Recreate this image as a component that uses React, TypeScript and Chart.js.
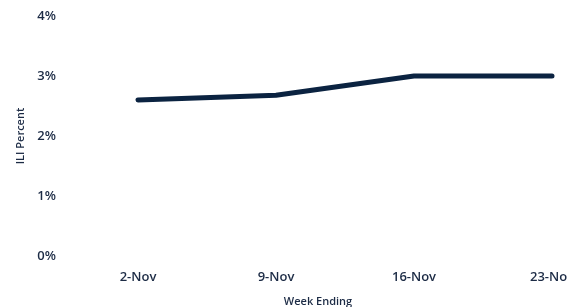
import React, { useEffect, useRef } from "react";
import { Chart, registerables } from "chart.js";

Chart.register(...registerables);

const categories = ["2-Nov", "9-Nov", "16-Nov", "23-Nov"];
const iliValues = [2.6, 2.68, 3.0, 3.0];
const yTicks = [0, 1, 2, 3, 4];

const NAVY = "#0b2341";
const TEXT = "#1c2b45";
const FONT = "'Open Sans', 'Noto Sans', sans-serif";

export default function App() {
  const ref = useRef<HTMLCanvasElement | null>(null);

  useEffect(() => {
    if (!ref.current) return;
    const chart = new Chart(ref.current, {
      type: "line",
      data: {
        labels: categories,
        datasets: [
          {
            data: iliValues,
            borderColor: NAVY,
            backgroundColor: NAVY,
            borderWidth: 5,
            pointRadius: 0,
            borderCapStyle: "round",
            borderJoinStyle: "round",
            tension: 0,
          },
        ],
      },
      options: {
        responsive: false,
        animation: false,
        layout: { padding: { left: 7, right: 7, top: 8, bottom: 0 } },
        plugins: {
          legend: { display: false },
          tooltip: { enabled: false },
          title: {
            display: true,
            position: "bottom",
            text: "Week Ending",
            color: TEXT,
            font: { family: FONT, size: 11, weight: "600", lineHeight: 1.2 },
            padding: { top: 3.4, bottom: 0.4 },
          },
        },
        scales: {
          x: {
            offset: true,
            grid: { display: false, drawTicks: false },
            border: { display: false },
            ticks: {
              color: TEXT,
              padding: 13.2,
              maxRotation: 0,
              font: { family: FONT, size: 13, weight: "600" },
            },
            afterFit: (s: any) => {
              s.height = 36;
            },
          },
          y: {
            min: 0,
            max: 4,
            afterBuildTicks: (s: any) => {
              s.ticks = yTicks.map((v) => ({ value: v }));
            },
            grid: { display: false, drawTicks: false },
            border: { display: false },
            ticks: {
              color: TEXT,
              padding: 13,
              font: { family: FONT, size: 13, weight: "600" },
              callback: (v: any) => v + "%",
            },
            title: {
              display: true,
              text: "ILI Percent",
              color: TEXT,
              font: { family: FONT, size: 11, weight: "600", lineHeight: 1 },
              padding: { top: 0, bottom: 0 },
            },
            afterFit: (s: any) => {
              s.width = 54;
              s.paddingTop = 0;
              s.paddingBottom = 0;
            },
          },
        },
      },
    });
    return () => chart.destroy();
  }, []);

  return (
    <div
      style={{
        position: "fixed",
        left: 8,
        top: 8,
        width: 559,
        height: 299,
        overflow: "hidden",
      }}
    >
      <canvas ref={ref} width={620} height={301} style={{ display: "block" }} />
    </div>
  );
}
